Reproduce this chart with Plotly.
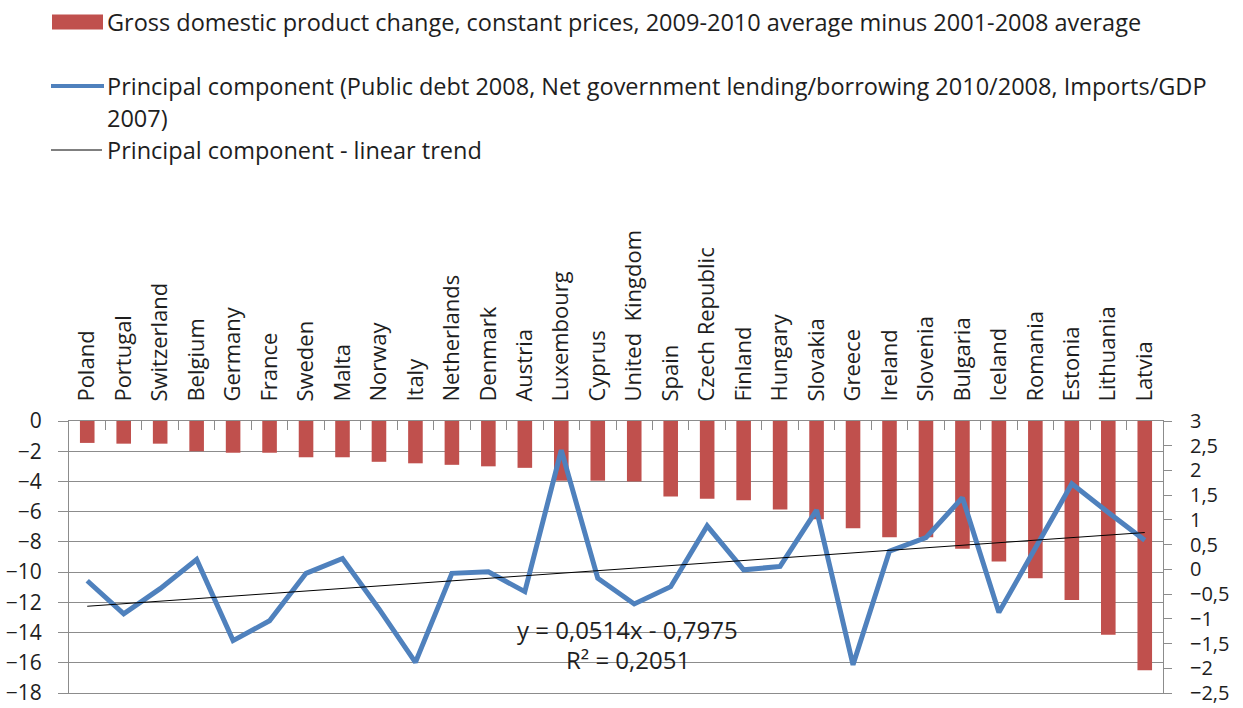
import plotly.graph_objects as go

countries = ["Poland", "Portugal", "Switzerland", "Belgium", "Germany", "France", "Sweden",
             "Malta", "Norway", "Italy", "Netherlands", "Denmark", "Austria", "Luxembourg",
             "Cyprus", "United  Kingdom", "Spain", "Czech Republic", "Finland", "Hungary",
             "Slovakia", "Greece", "Ireland", "Slovenia", "Bulgaria", "Iceland", "Romania",
             "Estonia", "Lithuania", "Latvia"]

gdp_change = [-1.45, -1.5, -1.5, -2.0, -2.1, -2.1, -2.4, -2.4, -2.7, -2.8, -2.9, -3.0,
              -3.1, -3.95, -3.95, -4.0, -5.0, -5.15, -5.25, -5.85, -6.5, -7.1, -7.7,
              -7.7, -8.45, -9.3, -10.4, -11.85, -14.15, -16.5]

principal_component = [-0.23, -0.9, -0.39, 0.2, -1.44, -1.04, -0.08, 0.22, -0.8, -1.88,
                       -0.08, -0.05, -0.45, 2.41, -0.18, -0.7, -0.35, 0.88, -0.01, 0.06,
                       1.2, -1.93, 0.37, 0.64, 1.45, -0.87, 0.43, 1.73, 1.15, 0.59]

TREND_SLOPE = 0.0514
TREND_INTERCEPT = -0.7975

left_ticks = [0, -2, -4, -6, -8, -10, -12, -14, -16, -18]
right_ticks = [3, 2.5, 2, 1.5, 1, 0.5, 0, -0.5, -1, -1.5, -2, -2.5]

legend_labels = [
    "Gross domestic product change, constant prices, 2009-2010 average minus 2001-2008 average",
    "Principal component (Public debt 2008, Net government lending/borrowing 2010/2008, Imports/GDP",
    "2007)",
    "Principal component - linear trend",
]

n = len(gdp_change)

BAR_COLOR = "#C0504D"
LINE_COLOR = "#4F81BD"
GRID = "#8C8C8C"
TEXT = "#1E1E1E"
FONT = "Open Sans"
FS = 22
FS_LEG = 23.5

W, H = 1243, 708
L, R, T, B = 69, 1163, 421, 693


def px(x):
    return (x - L) / (R - L)


def py(y):
    return (B - y) / (B - T)


trend_x = list(range(1, n + 1))
trend_y = [TREND_SLOPE * i + TREND_INTERCEPT for i in trend_x]

fig = go.Figure()
fig.add_trace(go.Bar(x=countries, y=gdp_change, marker_color=BAR_COLOR, marker_line_width=0,
                     name=legend_labels[0], yaxis="y", showlegend=False))
fig.add_trace(go.Scatter(x=countries, y=principal_component, mode="lines",
                         line=dict(color=LINE_COLOR, width=5), yaxis="y2",
                         name="Principal component", showlegend=False))
fig.add_trace(go.Scatter(x=countries, y=trend_y, mode="lines",
                         line=dict(color="#000000", width=1), yaxis="y2",
                         name=legend_labels[3], showlegend=False))

shapes = [
    dict(type="rect", xref="paper", yref="paper", x0=px(52), x1=px(103), y0=py(14.5), y1=py(29.5),
         fillcolor=BAR_COLOR, line_width=0),
    dict(type="line", xref="paper", yref="paper", x0=px(51), x1=px(104), y0=py(86), y1=py(86),
         line=dict(color=LINE_COLOR, width=4)),
    dict(type="line", xref="paper", yref="paper", x0=px(51), x1=px(102), y0=py(150), y1=py(150),
         line=dict(color="#000000", width=1)),
]

annotations = []
for text, yc in zip(legend_labels, [22, 86, 118, 150]):
    annotations.append(dict(text=text, xref="paper", yref="paper", x=px(105), y=py(yc),
                            xanchor="left", yanchor="middle", showarrow=False,
                            font=dict(family=FONT, size=FS_LEG, color=TEXT)))
annotations.append(dict(text="y = 0,0514x - 0,7975", xref="paper", yref="paper", x=px(627), y=py(629),
                        xanchor="center", yanchor="middle", showarrow=False,
                        font=dict(family=FONT, size=24, color=TEXT)))
annotations.append(dict(text="R² = 0,2051", xref="paper", yref="paper", x=px(628), y=py(659),
                        xanchor="center", yanchor="middle", showarrow=False,
                        font=dict(family=FONT, size=24, color=TEXT)))

fig.update_layout(
    width=W, height=H,
    margin=dict(l=L, r=W - R, t=T, b=H - B, autoexpand=False),
    paper_bgcolor="white", plot_bgcolor="white",
    separators=", ",
    font=dict(family=FONT, size=FS, color=TEXT),
    bargap=0.6,
    showlegend=False,
    xaxis=dict(side="top", tickangle=-90, showgrid=False, showline=True, linecolor=GRID,
               linewidth=1, mirror=True, ticks="inside", tickson="boundaries", ticklen=9,
               tickcolor=GRID, tickfont=dict(family=FONT, size=FS, color=TEXT),
               ticklabelstandoff=14, anchor="y", range=[-0.5, n - 0.5]),
    yaxis=dict(range=[-18, 0], tickvals=left_ticks, showgrid=True, gridcolor=GRID, gridwidth=1,
               showline=True, linecolor=GRID, ticks="outside", ticklen=10, tickcolor=GRID,
               zeroline=False, tickfont=dict(family=FONT, size=21, color=TEXT),
               ticklabelstandoff=12, ticklabeloverflow="allow"),
    yaxis2=dict(range=[-2.5, 3], tickvals=right_ticks, overlaying="y", side="right",
                showgrid=False, showline=True, linecolor=GRID, ticks="outside", ticklen=8,
                tickcolor=GRID, zeroline=False, tickfont=dict(family=FONT, size=20, color=TEXT),
                ticklabelstandoff=14, ticklabeloverflow="allow"),
    shapes=shapes,
    annotations=annotations,
)

fig.write_html("out.html", config={"displayModeBar": False},
               post_script="document.body.style.margin='0';document.body.style.overflow='hidden';")
